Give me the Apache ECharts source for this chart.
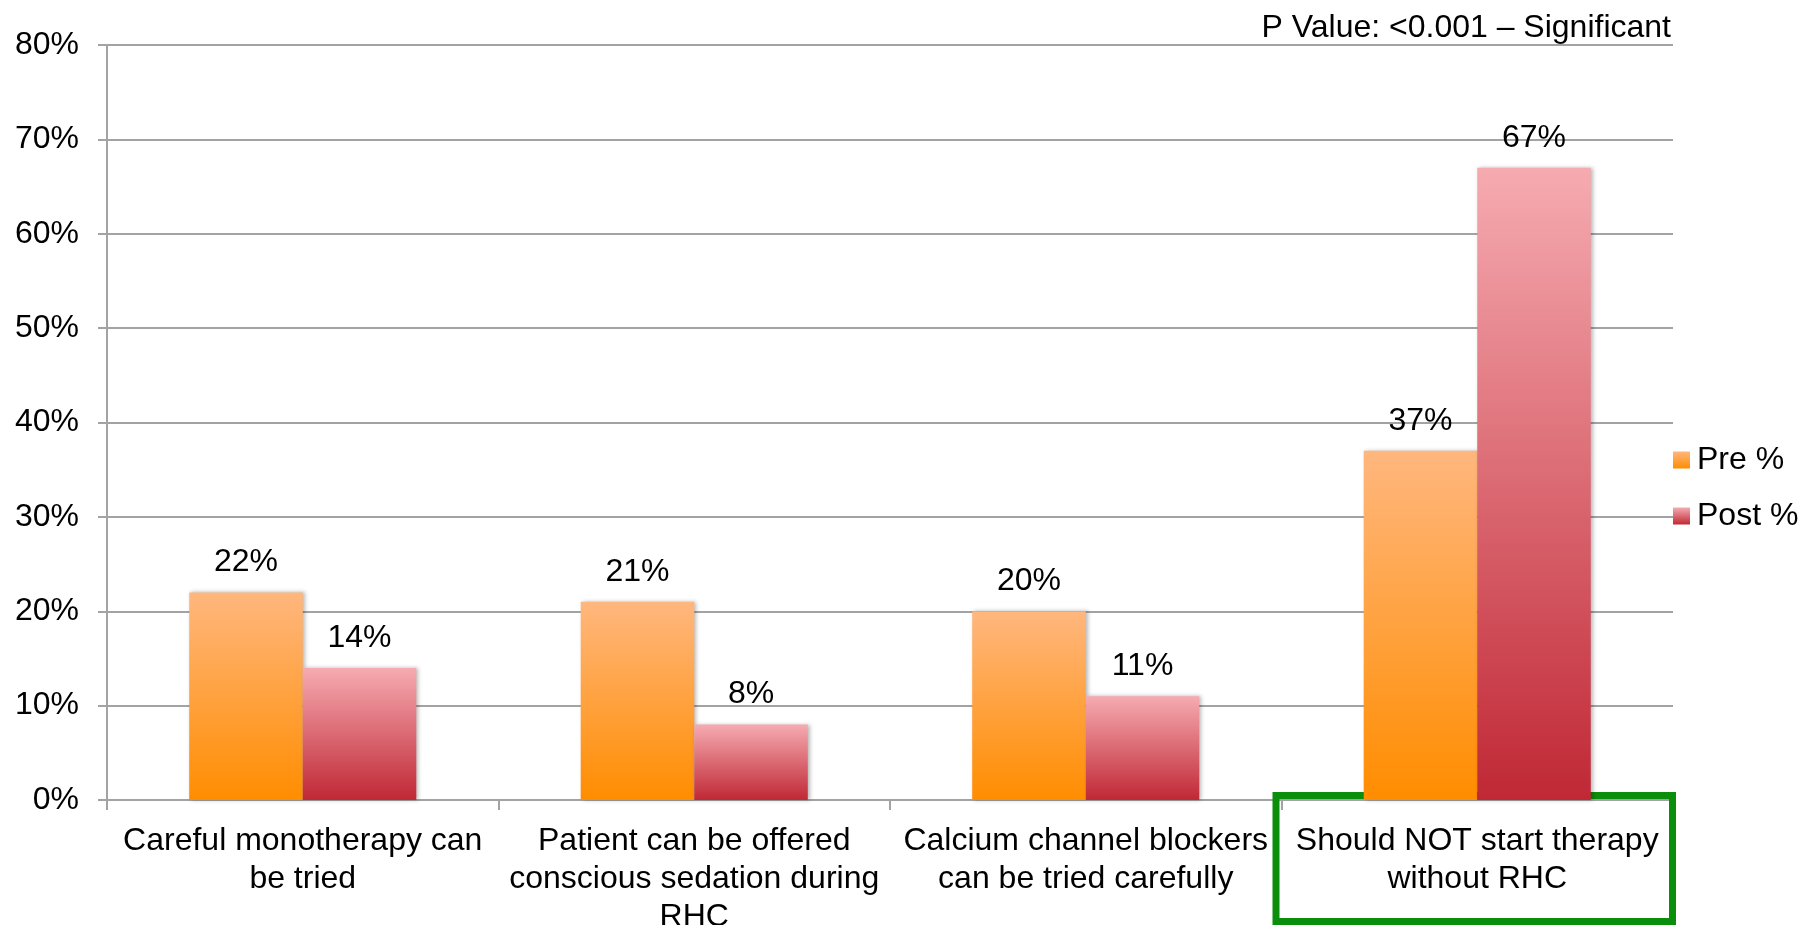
<!DOCTYPE html>
<html>
<head>
<meta charset="utf-8">
<script src="https://cdn.jsdelivr.net/npm/echarts@6/dist/echarts.min.js"></script>
<style>
  html, body { margin: 0; padding: 0; background: #fff; }
  #chart { width: 1818px; height: 925px; }
</style>
</head>
<body>
<div id="chart"></div>
<script>
// Survey answers before and after the session (share of respondents, %)
const categories = [
  'Careful monotherapy can\nbe tried',
  'Patient can be offered\nconscious sedation during\nRHC',
  'Calcium channel blockers\ncan be tried carefully',
  'Should NOT start therapy\nwithout RHC'
];
const preValues = [22, 21, 20, 37];
const postValues = [14, 8, 11, 67];
const seriesNames = ['Pre %', 'Post %'];
const pValueNote = 'P Value: <0.001 \u2013 Significant';
const highlightedIndex = 3;

const FONT = '"Liberation Sans", Arial, Helvetica, sans-serif';
const FONT_SIZE = 32;
const GRID_GRAY = '#a3a3a3';

function grad(top, bottom) {
  return new echarts.graphic.LinearGradient(0, 0, 0, 1, [
    { offset: 0, color: top },
    { offset: 1, color: bottom }
  ]);
}

const barShadow = {
  shadowColor: 'rgba(0,0,0,0.28)',
  shadowBlur: 4,
  shadowOffsetX: 2,
  shadowOffsetY: 0
};

const labelStyle = {
  show: true,
  position: 'top',
  distance: 14,
  formatter: '{c}%',
  color: '#000',
  fontFamily: FONT,
  fontSize: FONT_SIZE
};

const chart = echarts.init(document.getElementById('chart'), null, { renderer: 'canvas' });

chart.setOption({
  backgroundColor: '#fff',
  animation: false,
  title: {
    text: pValueNote,
    right: 142,
    top: 6,
    textStyle: { fontFamily: FONT, fontSize: FONT_SIZE, fontWeight: 'normal', color: '#000', lineHeight: 34 }
  },
  legend: {
    orient: 'vertical',
    left: 1668,
    top: 438,
    itemWidth: 17,
    itemHeight: 17,
    itemGap: 22,
    icon: 'rect',
    data: seriesNames,
    textStyle: { fontFamily: FONT, fontSize: FONT_SIZE, color: '#000', lineHeight: 34, padding: [0, 0, 0, 2] }
  },
  grid: { left: 107, right: 145, top: 45, bottom: 125, containLabel: false, outerBoundsMode: 'none' },
  xAxis: {
    type: 'category',
    data: categories,
    boundaryGap: true,
    axisLine: { show: true, lineStyle: { color: GRID_GRAY, width: 2 } },
    axisTick: { show: true, length: 10, lineStyle: { color: GRID_GRAY, width: 2 } },
    axisLabel: {
      interval: 0,
      margin: 22,
      color: '#000',
      fontFamily: FONT,
      fontSize: FONT_SIZE,
      lineHeight: 38,
      align: 'center'
    }
  },
  yAxis: {
    type: 'value',
    min: 0,
    max: 80,
    interval: 10,
    axisLine: { show: true, lineStyle: { color: GRID_GRAY, width: 2 } },
    axisTick: { show: true, inside: false, length: 9, lineStyle: { color: GRID_GRAY, width: 2 } },
    splitLine: { show: true, lineStyle: { color: GRID_GRAY, width: 2 } },
    axisLabel: {
      formatter: '{value}%',
      margin: 28,
      color: '#000',
      fontFamily: FONT,
      fontSize: FONT_SIZE
    }
  },
  series: [
    {
      name: seriesNames[0],
      type: 'bar',
      data: preValues,
      barGap: '0%',
      barCategoryGap: '42%',
      z: 3,
      itemStyle: Object.assign({ color: grad('#ffb77e', '#ff8d00') }, barShadow),
      label: labelStyle
    },
    {
      name: seriesNames[1],
      type: 'bar',
      data: postValues,
      barGap: '0%',
      barCategoryGap: '42%',
      z: 3,
      itemStyle: Object.assign({ color: grad('#f6abb1', '#c02835') }, barShadow),
      label: labelStyle
    }
  ]
});

// Green frame around the highlighted category label
function drawFrame() {
  const cx = chart.convertToPixel({ xAxisIndex: 0 }, categories[highlightedIndex]);
  const c0 = chart.convertToPixel({ xAxisIndex: 0 }, categories[0]);
  const c1 = chart.convertToPixel({ xAxisIndex: 0 }, categories[1]);
  const band = c1 - c0;
  const y0 = chart.convertToPixel({ yAxisIndex: 0 }, 0);
  const lw = 7;
  const left = cx - band / 2 - 9 + lw / 2;
  const right = cx + band / 2 + 3 - lw / 2;
  const top = y0 - 8 + lw / 2;
  const bottom = 925 - lw / 2;
  chart.setOption({
    graphic: [{
      type: 'rect',
      z: 1,
      shape: { x: left, y: top, width: right - left, height: bottom - top },
      style: { fill: null, stroke: '#0b8e0b', lineWidth: lw }
    }]
  });
}
drawFrame();
</script>
</body>
</html>
